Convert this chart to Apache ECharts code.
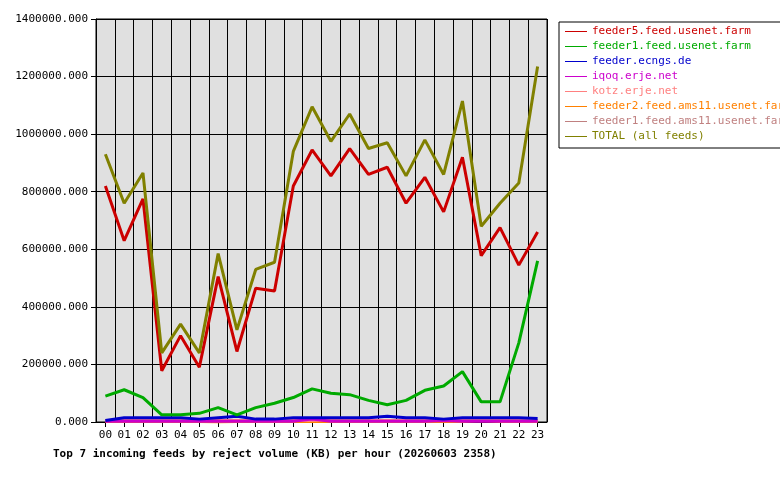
<!DOCTYPE html><html><head><meta charset="utf-8"><script src="https://cdn.jsdelivr.net/npm/echarts@6/dist/echarts.min.js"></script></head><body style="margin:0;background:#fff"><div id="c" style="width:780px;height:480px"></div><script>
const hours=['00','01','02','03','04','05','06','07','08','09','10','11','12','13','14','15','16','17','18','19','20','21','22','23'];
const names=['feeder5.feed.usenet.farm','feeder1.feed.usenet.farm','feeder.ecngs.de','iqoq.erje.net','kotz.erje.net','feeder2.feed.ams11.usenet.farm','feeder1.feed.ams11.usenet.farm','TOTAL (all feeds)'];
const colors=['#cc0000','#00aa00','#0000cc','#cc00cc','#ff8080','#ff8000','#c08080','#808000'];
const feeder5=[820,630,775,178,300,190,505,245,465,455,820,945,855,950,860,885,760,850,730,920,578,675,545,660];
const feeder1=[90,112,85,25,25,30,50,25,50,65,85,115,100,95,75,60,75,110,125,175,70,70,275,560];
const ecngs=[5,15,15,15,15,10,15,20,10,10,15,15,15,15,15,20,15,15,10,15,15,15,15,12];
const iqoq=[3,3,3,3,3,3,3,3,3,3,3,10,3,3,3,3,3,3,5,3,3,3,3,3];
const kotz=[5,5,5,5,5,5,5,5,5,5,5,5,8,5,5,5,5,5,5,5,5,5,5,5];
const ams2=[2,2,2,2,2,2,0,2,2,2,2,2,2,2,2,2,2,2,2,2,5,2,2,2];
const ams1=[5,5,5,5,5,5,5,5,5,5,5,5,5,5,5,5,5,5,5,5,5,5,5,5];
const total=[930,760,865,240,340,240,585,320,530,555,940,1095,975,1070,950,970,855,980,860,1115,680,760,830,1235];
const data=[feeder5,feeder1,ecngs,iqoq,kotz,ams2,ams1,total];
const order=[6,5,4,3,2,1,0,7];
const ch=echarts.init(document.getElementById('c'));
ch.setOption({animation:false,textStyle:{fontFamily:'DejaVu Sans Mono'},
title:{text:'Top 7 incoming feeds by reject volume (KB) per hour (20260603 2358)',left:48,top:444,textStyle:{fontFamily:'DejaVu Sans Mono',fontSize:11,fontWeight:'bold',color:'#000'}},
legend:{orient:'vertical',left:559,top:22,itemGap:4,itemWidth:22,itemHeight:8,icon:'path://M0,4L22,4L22,5L0,5Z',borderColor:'#000',borderWidth:1,padding:[4,8,6,6],backgroundColor:'#fff',
 data:names.map((n,i)=>({name:n,textStyle:{color:colors[i],fontSize:11,fontFamily:'DejaVu Sans Mono'}}))},
grid:{left:96,right:233,top:19,bottom:58,show:true,backgroundColor:'#e0e0e0',borderColor:'#000',borderWidth:1},
xAxis:{type:'category',data:hours,boundaryGap:true,axisLine:{lineStyle:{color:'#000'}},axisTick:{show:true,alignWithLabel:true,lineStyle:{color:'#000'}},axisLabel:{color:'#000',fontSize:11,fontFamily:'DejaVu Sans Mono'},splitLine:{show:true,lineStyle:{color:'#000'}}},
yAxis:{type:'value',min:0,max:1400000,interval:200000,axisLine:{show:true,lineStyle:{color:'#000'}},axisTick:{show:true,lineStyle:{color:'#000'}},axisLabel:{color:'#000',fontSize:11,fontFamily:'DejaVu Sans Mono',formatter:v=>v.toFixed(3)},splitLine:{lineStyle:{color:'#000'}}},
series:order.map(i=>({name:names[i],type:'line',data:data[i].map(v=>v*1000),symbol:'none',lineStyle:{color:colors[i],width:3},itemStyle:{color:colors[i]}}))
});
</script></body></html>
